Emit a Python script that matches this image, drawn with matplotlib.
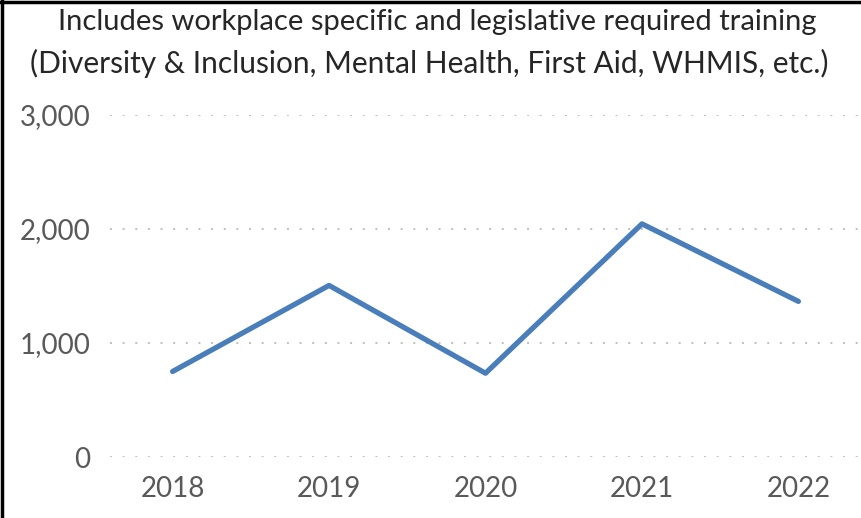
import numpy as np
import matplotlib.pyplot as plt
from matplotlib.lines import Line2D
from matplotlib.ticker import FuncFormatter

years = ["2018", "2019", "2020", "2021", "2022"]
trainings = [750, 1505, 735, 2045, 1365]
y_ticks = [0, 1000, 2000, 3000]

plt.rcParams["font.family"] = ["Lato", "DejaVu Sans"]

fig = plt.figure(figsize=(8.61, 5.18), dpi=100)
ax = fig.add_axes([110 / 861, 61 / 518, 751 / 861, 342 / 518])

x = np.arange(len(years))
ax.plot(x, trainings, color="#4a7ebb", lw=3.8, solid_capstyle="round", solid_joinstyle="round", zorder=3)

ax.set_xlim(-0.4, 4.4)
ax.set_ylim(0, 3000)
ax.set_xticks(x)
ax.set_xticklabels(years)
ax.set_yticks(y_ticks)
ax.yaxis.set_major_formatter(FuncFormatter(lambda v, p: f"{int(v):,}"))
ax.tick_params(length=0, labelsize=20, labelcolor="#595959")
ax.tick_params(axis="y", pad=14)
ax.tick_params(axis="x", pad=14)
ax.grid(axis="y", color="#bfbfbf", lw=1.4, linestyle=(0, (1, 5.5)))
ax.set_axisbelow(True)
for s in ax.spines.values():
    s.set_visible(False)

fig.text(437 / 861, 1 - 22 / 518,
         "Includes workplace specific and legislative required training",
         ha="center", va="center", fontsize=21, color="#262626")
fig.text(429 / 861, 1 - 63 / 518,
         "(Diversity & Inclusion, Mental Health, First Aid, WHMIS, etc.)",
         ha="center", va="center", fontsize=21.5, color="#262626")

# black frame on left and top
fig.add_artist(Line2D([0.002, 0.002], [0, 1], color="black", lw=2.5, transform=fig.transFigure))
fig.add_artist(Line2D([0, 1], [0.997, 0.997], color="black", lw=2.5, transform=fig.transFigure))

fig.savefig("out.png", dpi=100)
